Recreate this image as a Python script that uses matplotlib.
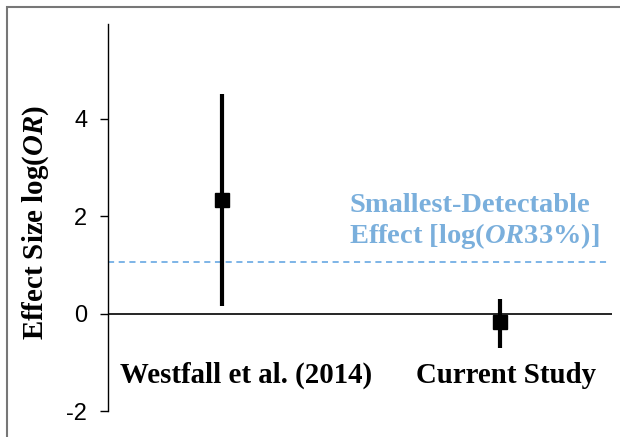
import matplotlib
matplotlib.use("Agg")
import matplotlib.pyplot as plt
from matplotlib.patches import Rectangle

# data
studies = ["Westfall et al. (2014)", "Current Study"]
positions = [1, 2]
effect = [2.34, -0.18]
ci_low = [0.16, -0.70]
ci_high = [4.51, 0.31]
smallest_detectable = 1.07
yticks = [-2, 0, 2, 4]

plt.rcParams['mathtext.fontset'] = 'custom'
plt.rcParams['mathtext.rm'] = 'Liberation Serif:bold'
plt.rcParams['mathtext.it'] = 'Liberation Serif:italic:bold'

W, H = 620, 437
fig = plt.figure(figsize=(W / 100, H / 100), dpi=100)
ax = fig.add_axes([108 / W, (H - 411) / H, (612 - 108) / W, (411 - 24) / H])

# grey frame on the left and top of the figure
fig.patches.append(Rectangle((7 / W, -0.1), 1.2, (H - 7) / H + 0.1,
                             transform=fig.transFigure, fill=False,
                             edgecolor="#777777", linewidth=1.5))

ax.axhline(0, color="black", lw=1.2)
ax.axhline(smallest_detectable, color="#5aa0e0", lw=1.1, ls=(0, (4, 3)),
           xmax=0.99)

for x, m, lo, hi in zip(positions, effect, ci_low, ci_high):
    ax.plot([x, x], [lo, hi], color="black", lw=3, solid_capstyle="butt")
    ax.plot(x, m, marker="s", color="black", ms=10)

for x, name in zip(positions, studies):
    ax.text(x + (0.085 if x == 1 else 0.02), -1.27, name, ha="center", va="center",
            family="Liberation Serif", weight="bold", fontsize=20.8)

ax.text(1.457, 1.88, "Smallest-Detectable\nEffect [log($\\mathit{OR}$33%)]",
        color="#7aafdc", family="Liberation Serif", weight="bold",
        fontsize=20.5, ha="left", va="center", linespacing=1.15)

ax.set_xlim(0.59, 2.403)
ax.set_ylim(-2, 5.95)
ax.set_yticks(yticks)
ax.set_yticklabels([str(t) for t in yticks], family="Liberation Sans", fontsize=17)
ax.tick_params(axis="y", length=6, width=1, pad=9)
ax.set_xticks([])
for s in ["top", "right", "bottom"]:
    ax.spines[s].set_visible(False)
ax.spines["left"].set_linewidth(1)

fig.text(36 / W, 1 - 223 / H, "Effect Size log($\\mathit{OR}$)", rotation=90,
         ha="center", va="center", family="Liberation Serif", weight="bold",
         fontsize=20.8)

fig.savefig("out.png", dpi=100)
